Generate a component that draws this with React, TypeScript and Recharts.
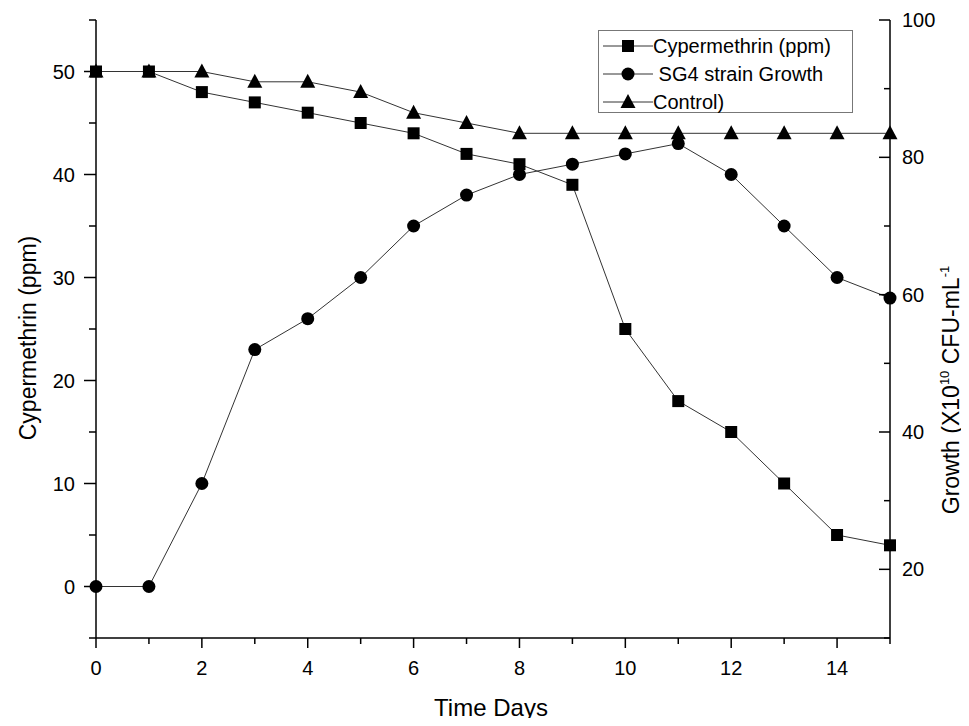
import { LineChart, Line, XAxis, YAxis } from 'recharts';

const days = [0, 1, 2, 3, 4, 5, 6, 7, 8, 9, 10, 11, 12, 13, 14, 15];
const cypermethrin = [50, 50, 48, 47, 46, 45, 44, 42, 41, 39, 25, 18, 15, 10, 5, 4];
const sg4Growth = [0, 0, 10, 23, 26, 30, 35, 38, 40, 41, 42, 43, 40, 35, 30, 28];
const control = [50, 50, 50, 49, 49, 48, 46, 45, 44, 44, 44, 44, 44, 44, 44, 44];

const topTicks = [1.5, 3, 4.5, 6, 7.5, 9, 10.5, 12, 13.5];
const leftTicks = [-5, 0, 5, 10, 15, 20, 25, 30, 35, 40, 45, 50, 55];
const rightTicks = [10, 20, 30, 40, 50, 60, 70, 80, 90, 100];

const data = days.map((d, i) => ({
  day: d,
  cypermethrin: cypermethrin[i],
  growth: sg4Growth[i],
  control: control[i],
}));

const FONT = '"Liberation Sans", Arial, sans-serif';
const tickFont = { fontSize: 20, fill: '#000', fontFamily: FONT };
const titleStyle = { fontSize: 23, fill: '#000', fontFamily: FONT };

// ticks drawn by hand so major/minor marks get different lengths
const BottomTick = (props: any) => {
  const { x, y, payload } = props;
  const major = payload.value % 2 === 0;
  return (
    <g>
      <line x1={x} y1={y} x2={x} y2={y + (major ? 10 : 6)} stroke="#000" strokeWidth={1.5} />
      {major && payload.value < 15 && (
        <text x={x} y={y + 37} textAnchor="middle" style={tickFont}>
          {payload.value}
        </text>
      )}
    </g>
  );
};

const TopTick = (props: any) => {
  const { x, y, payload } = props;
  const major = payload.value % 3 === 0;
  return <line x1={x} y1={y} x2={x} y2={y + (major ? 10 : 5)} stroke="#000" strokeWidth={1.5} />;
};

const LeftTick = (props: any) => {
  const { x, y, payload } = props;
  const v = payload.value;
  const major = v % 10 === 0;
  return (
    <g>
      <line x1={x} y1={y} x2={x - (major ? 12 : 7)} y2={y} stroke="#000" strokeWidth={1.5} />
      {major && v >= 0 && v <= 50 && (
        <text x={x - 21} y={y + 7} textAnchor="end" style={tickFont}>
          {v}
        </text>
      )}
    </g>
  );
};

const RightTick = (props: any) => {
  const { x, y, payload } = props;
  const v = payload.value;
  const major = v % 20 === 0;
  return (
    <g>
      <line x1={x} y1={y} x2={x - (major ? 11 : 6)} y2={y} stroke="#000" strokeWidth={1.5} />
      {major && (
        <text x={x + 12} y={y + 7} textAnchor="start" style={tickFont}>
          {v}
        </text>
      )}
    </g>
  );
};

const SquareDot = (props: any) => {
  const { cx, cy } = props;
  if (cx == null || cy == null) return null;
  return <rect x={cx - 6} y={cy - 6} width={12} height={12} fill="#000" />;
};
const CircleDot = (props: any) => {
  const { cx, cy } = props;
  if (cx == null || cy == null) return null;
  return <circle cx={cx} cy={cy} r={6.5} fill="#000" />;
};
const TriangleDot = (props: any) => {
  const { cx, cy } = props;
  if (cx == null || cy == null) return null;
  return <polygon points={`${cx},${cy - 8} ${cx - 7.5},${cy + 6} ${cx + 7.5},${cy + 6}`} fill="#000" />;
};

function LegendBox() {
  const rows = [
    { label: 'Cypermethrin (ppm)', shape: 'square' },
    { label: ' SG4 strain Growth', shape: 'circle' },
    { label: 'Control)', shape: 'triangle' },
  ];
  return (
    <div
      style={{
        position: 'absolute',
        left: 598,
        top: 30,
        border: '1px solid #777',
        background: '#fff',
        width: 255,
        height: 83,
        paddingTop: 1,
        fontFamily: FONT,
        fontSize: 20,
        color: '#000',
        boxSizing: 'border-box',
      }}
    >
      {rows.map((r) => (
        <div key={r.label} style={{ display: 'flex', alignItems: 'center', height: 28 }}>
          <svg width={50} height={20} style={{ marginLeft: 4, flex: 'none' }}>
            <line x1={0} y1={10} x2={50} y2={10} stroke="#333" strokeWidth={1} />
            {r.shape === 'square' && <rect x={19} y={4} width={12} height={12} fill="#000" />}
            {r.shape === 'circle' && <circle cx={25} cy={10} r={6.5} fill="#000" />}
            {r.shape === 'triangle' && <polygon points="25,2 17.5,16 32.5,16" fill="#000" />}
          </svg>
          <span style={{ whiteSpace: 'pre' }}>{r.label}</span>
        </div>
      ))}
    </div>
  );
}

export default function App() {
  return (
    <div style={{ margin: -8, width: 969, height: 726, background: '#fff', position: 'relative', overflow: 'hidden' }}>
      <LineChart width={969} height={726} data={data} margin={{ top: 20, right: 0, bottom: 0, left: 0 }}>
        <XAxis
          dataKey="day"
          type="number"
          domain={[0, 15]}
          ticks={days}
          interval={0}
          height={88}
          stroke="#000"
          strokeWidth={1.5}
          tickLine={false}
          tickSize={0}
          tickMargin={0}
          tick={<BottomTick />}
          label={{
            content: () => (
              <text x={491} y={716} textAnchor="middle" style={{ ...titleStyle, fontSize: 24 }}>
                Time Days
              </text>
            ),
          }}
        />
        <XAxis
          xAxisId="top"
          orientation="top"
          dataKey="day"
          type="number"
          domain={[0, 15]}
          ticks={topTicks}
          interval={0}
          tickLine={false}
          tickSize={0}
          tickMargin={0}
          tick={<TopTick />}
          stroke="#000"
          strokeWidth={1.5}
          height={0}
        />
        <YAxis
          yAxisId="left"
          domain={[-5, 55]}
          ticks={leftTicks}
          interval={0}
          width={96}
          stroke="#000"
          strokeWidth={1.5}
          tickLine={false}
          tickSize={0}
          tickMargin={0}
          tick={<LeftTick />}
          label={{
            content: () => (
              <text x={36} y={338} textAnchor="middle" transform="rotate(-90 36 338)" style={titleStyle}>
                Cypermethrin (ppm)
              </text>
            ),
          }}
        />
        <YAxis
          yAxisId="right"
          orientation="right"
          domain={[10, 100]}
          ticks={rightTicks}
          interval={0}
          width={79}
          stroke="#000"
          strokeWidth={1.5}
          tickLine={false}
          tickSize={0}
          tickMargin={0}
          tick={<RightTick />}
          allowDataOverflow
          label={{
            content: () => (
              <text x={959} y={390} textAnchor="middle" transform="rotate(-90 959 390)" style={titleStyle}>
                Growth (X10
                <tspan fontSize={13} dy={-10}>10</tspan>
                <tspan dy={10}> CFU-mL</tspan>
                <tspan fontSize={13} dy={-10}>-1</tspan>
              </text>
            ),
          }}
        />
        <Line yAxisId="left" dataKey="growth" stroke="#333" strokeWidth={1} dot={<CircleDot />} isAnimationActive={false} />
        <Line yAxisId="left" dataKey="control" stroke="#333" strokeWidth={1} dot={<TriangleDot />} isAnimationActive={false} />
        <Line yAxisId="left" dataKey="cypermethrin" stroke="#333" strokeWidth={1} dot={<SquareDot />} isAnimationActive={false} />
      </LineChart>
      <LegendBox />
    </div>
  );
}
